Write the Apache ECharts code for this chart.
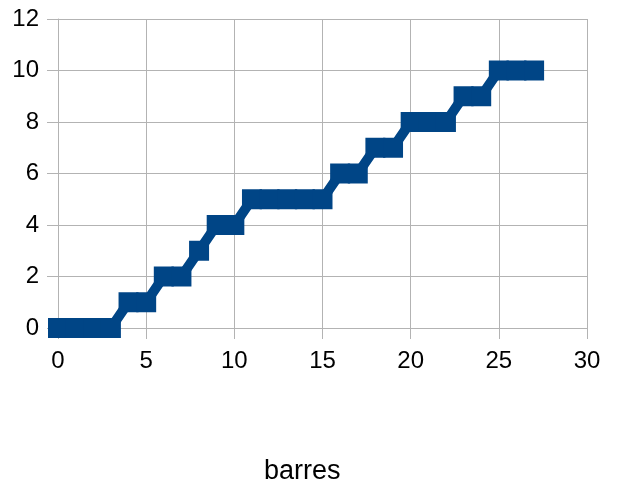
<!DOCTYPE html>
<html>
<head>
<meta charset="utf-8">
<script src="https://cdn.jsdelivr.net/npm/echarts@6/dist/echarts.min.js"></script>
<style>html,body{margin:0;padding:0;background:#fff}#c{width:618px;height:489px}</style>
</head>
<body>
<div id="c"></div>
<script>
var xValues = [0,1,2,3,4,5,6,7,8,9,10,11,12,13,14,15,16,17,18,19,20,21,22,23,24,25,26,27];
var yValues = [0,0,0,0,1,1,2,2,3,4,4,5,5,5,5,5,6,6,7,7,8,8,8,9,9,10,10,10];
var xAxisTitle = 'barres';

var data = xValues.map(function(x, i){ return [x, yValues[i]]; });
var gridColor = '#b3b3b3';
var fontFam = '"Liberation Sans", Arial, sans-serif';
var chart = echarts.init(document.getElementById('c'), null, {renderer:'canvas'});
chart.setOption({
  animation: false,
  title: {
    text: xAxisTitle, left: 264, top: 458, padding: 0,
    textStyle: {fontSize: 27, fontWeight: 'normal', color: '#000', fontFamily: fontFam}
  },
  grid: {left: 58, right: 31, top: 19, bottom: 161, containLabel: false},
  xAxis: {
    type: 'value', min: 0, max: 30, interval: 5,
    axisLine: {show: true, lineStyle: {color: gridColor, width: 1}},
    axisTick: {show: true, inside: false, length: 11, lineStyle: {color: gridColor, width: 1}},
    axisLabel: {fontSize: 24, color: '#000', margin: 21, fontFamily: fontFam},
    splitLine: {show: true, lineStyle: {color: gridColor, width: 1}}
  },
  yAxis: {
    type: 'value', min: 0, max: 12, interval: 2,
    axisLine: {show: true, lineStyle: {color: gridColor, width: 1}},
    axisTick: {show: true, inside: false, length: 11, lineStyle: {color: gridColor, width: 1}},
    axisLabel: {fontSize: 24, color: '#000', margin: 19, fontFamily: fontFam},
    splitLine: {show: true, lineStyle: {color: gridColor, width: 1}}
  },
  series: [{
    type: 'line',
    data: data,
    symbol: 'rect',
    symbolSize: [20, 20],
    showAllSymbol: true,
    lineStyle: {color: '#004586', width: 10},
    itemStyle: {color: '#004586', borderWidth: 0},
    clip: false
  }]
});
</script>
</body>
</html>
